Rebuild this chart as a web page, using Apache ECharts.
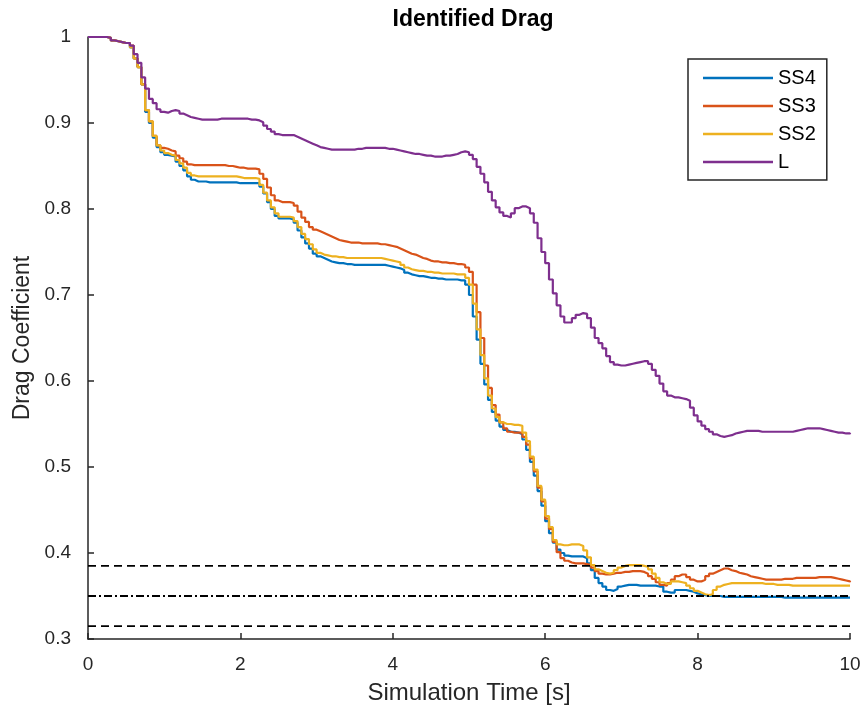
<!DOCTYPE html>
<html>
<head>
<meta charset="utf-8">
<title>Identified Drag</title>
<script src="https://cdn.jsdelivr.net/npm/echarts@6/dist/echarts.min.js"></script>
<style>
  html, body { margin: 0; padding: 0; background: #fff; }
  #chart { width: 865px; height: 712px; }
</style>
</head>
<body>
<div id="chart"></div>
<script>
// Identified drag coefficient per model, sampled every 0.05 s (zero-order hold)
const sampleStep = 0.05;

const seriesNames = ['SS4', 'SS3', 'SS2', 'L'];

const ss4 = [
  1.000,1.000,1.000,1.000,1.000,0.999,0.996,0.995,0.994,0.993, 0.993,0.988,0.975,0.965,0.945,0.913,0.900,0.883,0.872,0.866,
  0.863,0.862,0.861,0.855,0.850,0.845,0.838,0.834,0.832,0.832, 0.832,0.831,0.831,0.831,0.831,0.831,0.831,0.831,0.831,0.830,
  0.830,0.830,0.830,0.830,0.830,0.826,0.818,0.808,0.800,0.792, 0.789,0.789,0.789,0.788,0.784,0.775,0.767,0.760,0.754,0.748,
  0.745,0.743,0.741,0.739,0.738,0.737,0.737,0.736,0.736,0.735, 0.735,0.735,0.735,0.735,0.735,0.735,0.735,0.735,0.734,0.733,
  0.732,0.731,0.729,0.726,0.724,0.723,0.722,0.722,0.721,0.720, 0.720,0.719,0.719,0.718,0.718,0.718,0.718,0.717,0.717,0.712,
  0.700,0.675,0.648,0.620,0.596,0.578,0.564,0.554,0.547,0.543, 0.541,0.541,0.540,0.538,0.532,0.520,0.506,0.490,0.472,0.455,
  0.437,0.423,0.412,0.404,0.400,0.397,0.396,0.396,0.396,0.396, 0.394,0.388,0.380,0.371,0.365,0.361,0.357,0.356,0.358,0.361,
  0.362,0.363,0.363,0.363,0.362,0.362,0.362,0.362,0.362,0.361, 0.361,0.355,0.354,0.354,0.357,0.357,0.357,0.356,0.355,0.353,
  0.352,0.351,0.350,0.350,0.350,0.350,0.349,0.349,0.349,0.349, 0.349,0.349,0.349,0.349,0.349,0.349,0.349,0.349,0.349,0.349,
  0.349,0.349,0.348,0.348,0.348,0.348,0.348,0.348,0.348,0.348, 0.348,0.348,0.348,0.348,0.348,0.348,0.348,0.348,0.348,0.348,
  0.348
];

const ss3 = [
  1.000,1.000,1.000,1.000,1.000,0.999,0.996,0.995,0.994,0.993, 0.993,0.990,0.975,0.965,0.945,0.915,0.902,0.885,0.874,0.871,
  0.870,0.868,0.867,0.862,0.859,0.855,0.852,0.851,0.851,0.851, 0.851,0.851,0.851,0.851,0.851,0.851,0.850,0.850,0.849,0.848,
  0.848,0.847,0.847,0.847,0.846,0.841,0.835,0.825,0.816,0.810, 0.808,0.808,0.808,0.807,0.804,0.797,0.790,0.785,0.779,0.776,
  0.774,0.772,0.770,0.768,0.766,0.764,0.763,0.762,0.761,0.761, 0.761,0.760,0.760,0.760,0.760,0.760,0.759,0.759,0.758,0.757,
  0.756,0.754,0.752,0.750,0.748,0.747,0.745,0.743,0.742,0.740, 0.739,0.739,0.738,0.738,0.737,0.737,0.736,0.736,0.735,0.732,
  0.727,0.712,0.680,0.650,0.618,0.592,0.572,0.561,0.552,0.545, 0.541,0.540,0.540,0.540,0.535,0.526,0.510,0.495,0.476,0.460,
  0.440,0.428,0.413,0.401,0.394,0.391,0.389,0.388,0.388,0.388, 0.387,0.386,0.383,0.379,0.376,0.375,0.375,0.376,0.377,0.377,
  0.378,0.378,0.379,0.379,0.379,0.378,0.376,0.373,0.370,0.366, 0.363,0.362,0.365,0.369,0.373,0.375,0.375,0.372,0.369,0.367,
  0.367,0.369,0.373,0.376,0.378,0.380,0.382,0.382,0.380,0.379, 0.377,0.376,0.375,0.373,0.372,0.371,0.370,0.369,0.369,0.369,
  0.369,0.369,0.370,0.370,0.370,0.371,0.371,0.371,0.371,0.371, 0.371,0.372,0.372,0.372,0.372,0.371,0.370,0.369,0.368,0.367,
  0.366
];

const ss2 = [
  1.000,1.000,1.000,1.000,1.000,0.999,0.996,0.995,0.994,0.993, 0.993,0.988,0.975,0.965,0.945,0.915,0.902,0.885,0.874,0.868,
  0.865,0.863,0.862,0.857,0.853,0.848,0.842,0.839,0.838,0.838, 0.838,0.838,0.838,0.838,0.838,0.838,0.838,0.838,0.838,0.837,
  0.836,0.836,0.836,0.836,0.835,0.828,0.819,0.810,0.802,0.795, 0.791,0.791,0.791,0.790,0.786,0.779,0.771,0.765,0.759,0.753,
  0.749,0.747,0.746,0.745,0.745,0.744,0.744,0.743,0.743,0.743, 0.743,0.743,0.743,0.743,0.743,0.743,0.743,0.742,0.741,0.740,
  0.739,0.738,0.735,0.732,0.730,0.729,0.728,0.728,0.727,0.727, 0.726,0.726,0.725,0.725,0.725,0.725,0.724,0.724,0.724,0.720,
  0.712,0.690,0.660,0.630,0.603,0.583,0.568,0.558,0.552,0.550, 0.550,0.549,0.549,0.548,0.540,0.530,0.512,0.497,0.478,0.462,
  0.443,0.430,0.415,0.410,0.409,0.409,0.410,0.410,0.410,0.408, 0.403,0.395,0.386,0.381,0.379,0.377,0.376,0.377,0.380,0.383,
  0.385,0.386,0.386,0.386,0.386,0.385,0.384,0.381,0.376,0.371, 0.366,0.364,0.364,0.367,0.367,0.366,0.365,0.362,0.359,0.356,
  0.354,0.352,0.351,0.352,0.357,0.361,0.363,0.364,0.365,0.365, 0.365,0.365,0.365,0.365,0.365,0.365,0.365,0.364,0.364,0.364,
  0.363,0.363,0.363,0.363,0.362,0.362,0.362,0.362,0.362,0.362, 0.362,0.362,0.362,0.362,0.362,0.362,0.362,0.362,0.362,0.362,
  0.362
];

const lModel = [
  1.000,1.000,1.000,1.000,1.000,0.999,0.996,0.995,0.994,0.993, 0.993,0.990,0.980,0.970,0.953,0.940,0.928,0.923,0.916,0.913,
  0.912,0.914,0.915,0.914,0.911,0.909,0.907,0.906,0.905,0.904, 0.904,0.904,0.904,0.904,0.905,0.905,0.905,0.905,0.905,0.905,
  0.905,0.905,0.904,0.904,0.903,0.901,0.897,0.893,0.890,0.887, 0.886,0.886,0.886,0.886,0.884,0.882,0.880,0.878,0.876,0.874,
  0.872,0.871,0.870,0.869,0.869,0.869,0.869,0.869,0.869,0.869, 0.870,0.870,0.871,0.871,0.871,0.871,0.871,0.871,0.870,0.870,
  0.869,0.868,0.867,0.866,0.865,0.864,0.864,0.863,0.862,0.862, 0.861,0.861,0.861,0.862,0.862,0.863,0.864,0.866,0.867,0.866,
  0.863,0.858,0.849,0.841,0.831,0.820,0.810,0.802,0.796,0.792, 0.790,0.795,0.801,0.803,0.803,0.801,0.795,0.784,0.766,0.750,
  0.737,0.718,0.702,0.688,0.675,0.668,0.668,0.673,0.677,0.679, 0.678,0.673,0.662,0.650,0.644,0.638,0.629,0.622,0.619,0.618,
  0.618,0.619,0.620,0.621,0.622,0.623,0.623,0.620,0.613,0.606, 0.597,0.588,0.583,0.581,0.581,0.580,0.579,0.577,0.569,0.560,
  0.553,0.548,0.544,0.541,0.538,0.536,0.535,0.536,0.537,0.539, 0.540,0.541,0.542,0.542,0.542,0.542,0.541,0.541,0.541,0.541,
  0.541,0.541,0.541,0.541,0.541,0.542,0.543,0.544,0.545,0.545, 0.545,0.545,0.544,0.543,0.542,0.541,0.540,0.540,0.539,0.539,
  0.538
];

// Reference drag level and its +/-10 % band
const refUpper = 0.385;
const refNominal = 0.35;
const refLower = 0.315;
const timeSpan = [0, 10];

const xTicks = [0, 2, 4, 6, 8, 10];
const yTicks = [0.3, 0.4, 0.5, 0.6, 0.7, 0.8, 0.9, 1];

const colors = ['#0072BD', '#D95319', '#EDB120', '#7E2F8E'];
const axisColor = '#262626';
const fontFamily = '"Liberation Sans", Arial, Helvetica, sans-serif';

function withTime(values) {
  return values.map((v, i) => [+(i * sampleStep).toFixed(2), v]);
}

function refLine(level, dash) {
  return {
    type: 'line',
    silent: true,
    symbol: 'none',
    z: 5,
    data: timeSpan.map(t => [t, level]),
    lineStyle: { color: '#000', width: 1.8, type: dash }
  };
}

const modelData = [ss4, ss3, ss2, lModel];

const chart = echarts.init(document.getElementById('chart'), null, { renderer: 'canvas' });

chart.setOption({
  animation: false,
  backgroundColor: '#fff',
  textStyle: { fontFamily: fontFamily },
  title: {
    text: 'Identified Drag',
    left: 468,
    top: 3,
    textAlign: 'center',
    textStyle: { fontFamily: fontFamily, fontSize: 23, fontWeight: 'bold', color: '#000' }
  },
  grid: { left: 88, right: 15, top: 37, bottom: 73, containLabel: false },
  legend: {
    data: seriesNames.map(n => ({ name: n, icon: 'rect' })),
    orient: 'vertical',
    left: 688,
    top: 59,
    padding: [8, 11, 7, 15],
    itemGap: 6,
    itemWidth: 70,
    itemHeight: 2.5,
    borderColor: '#262626',
    borderWidth: 1.5,
    backgroundColor: '#fff',
    textStyle: { fontFamily: fontFamily, fontSize: 20, color: '#000', lineHeight: 22 }
  },
  xAxis: {
    type: 'value',
    min: xTicks[0],
    max: xTicks[xTicks.length - 1],
    interval: xTicks[1] - xTicks[0],
    name: 'Simulation Time [s]',
    nameLocation: 'middle',
    nameGap: 42,
    nameTextStyle: { fontFamily: fontFamily, fontSize: 24, color: axisColor },
    axisLine: { show: true, onZero: false, lineStyle: { color: axisColor, width: 1.5 } },
    axisTick: { show: true, inside: true, length: 6, lineStyle: { color: axisColor, width: 1.5 } },
    axisLabel: { fontFamily: fontFamily, fontSize: 19, color: axisColor, margin: 16 },
    splitLine: { show: false }
  },
  yAxis: {
    type: 'value',
    min: yTicks[0],
    max: yTicks[yTicks.length - 1],
    interval: 0.1,
    name: 'Drag Coefficient',
    nameLocation: 'middle',
    nameGap: 54,
    nameTextStyle: { fontFamily: fontFamily, fontSize: 23, color: axisColor },
    axisLine: { show: true, onZero: false, lineStyle: { color: axisColor, width: 1.5 } },
    axisTick: { show: true, inside: true, length: 6, lineStyle: { color: axisColor, width: 1.5 } },
    axisLabel: {
      fontFamily: fontFamily, fontSize: 19, color: axisColor, margin: 17,
      formatter: v => String(+v.toFixed(1))
    },
    splitLine: { show: false }
  },
  series: modelData.map((vals, k) => ({
    name: seriesNames[k],
    type: 'line',
    step: 'end',
    symbol: 'none',
    showSymbol: false,
    z: 2 + k * 0.1,
    data: withTime(vals),
    lineStyle: { color: colors[k], width: 2.2 },
    itemStyle: { color: colors[k] }
  })).concat([
    refLine(refUpper, [8, 5]),
    refLine(refNominal, [8, 3, 2, 3]),
    refLine(refLower, [8, 5])
  ])
});
</script>
</body>
</html>
